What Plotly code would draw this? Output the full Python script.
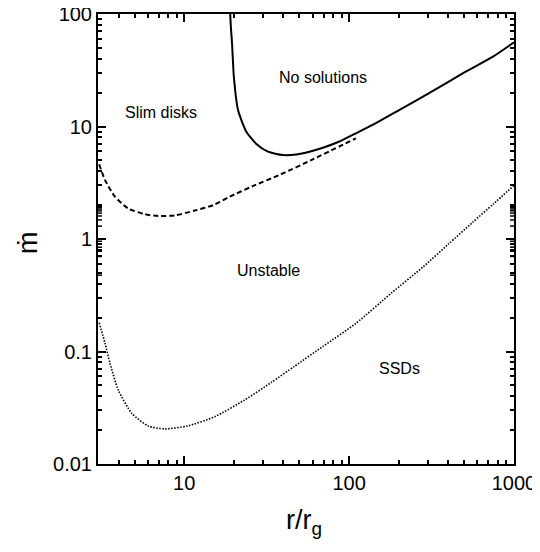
import math
import plotly.graph_objects as go

# Solid curve: "No solutions" boundary
solid_r = [19.0, 19.2, 19.5, 20.0, 21.2, 23.8, 27.4, 32.2, 39.6, 48.0, 57.5, 70.0, 87.3, 110, 150, 201, 300, 509, 750, 1000]
solid_m = [100, 75, 55, 27.7, 14.0, 9.0, 7.0, 5.97, 5.58, 5.65, 5.97, 6.5, 7.35, 8.7, 11.0, 14.0, 19.5, 30.7, 42.0, 56.0]

# Dashed curve
dash_r = [3.05, 3.31, 3.80, 4.57, 5.77, 6.95, 8.77, 11.6, 15.0, 18.9, 26.0, 37.8, 60.2, 110]
dash_m = [4.6, 3.34, 2.38, 1.87, 1.66, 1.60, 1.62, 1.79, 2.0, 2.38, 2.95, 3.71, 5.1, 7.85]

# Dotted curve
dot_r = [3.05, 3.31, 3.55, 3.98, 4.80, 6.04, 7.62, 10.5, 15.3, 23.2, 33.7, 46.7, 70.0, 110, 180, 279, 400, 559, 750, 1000]
dot_m = [0.18, 0.118, 0.0785, 0.0455, 0.0283, 0.0218, 0.0205, 0.0218, 0.0263, 0.037, 0.053, 0.074, 0.112, 0.178, 0.33, 0.56, 0.90, 1.40, 2.05, 3.0]

x_ticks = [10, 100, 1000]
x_ticktext = ["10", "100", "1000"]
x_minor = [4, 5, 6, 7, 8, 9, 20, 30, 40, 50, 60, 70, 80, 90, 200, 300, 400, 500, 600, 700, 800, 900]
y_ticks = [0.01, 0.1, 1, 10, 100]
y_ticktext = ["0.01", "0.1", "1", "10", "100"]
y_minor = [m * p for p in [0.01, 0.1, 1, 10] for m in range(2, 10)]

labels = ["No solutions", "Slim disks", "Unstable", "SSDs"]
label_r = [69.8, 7.26, 32.4, 201]
label_m = [27.0, 13.3, 0.53, 0.07]

FONT = "Liberation Sans, Arial, sans-serif"
X_RANGE = [math.log10(3), 3]
Y_RANGE = [-2, 2]

fig = go.Figure()
fig.add_trace(go.Scatter(x=solid_r, y=solid_m, mode="lines",
                         line=dict(color="black", width=2, shape="spline", smoothing=0.6)))
fig.add_trace(go.Scatter(x=dash_r, y=dash_m, mode="lines",
                         line=dict(color="black", width=2, dash="5px,3px", shape="spline", smoothing=0.6)))
fig.add_trace(go.Scatter(x=dot_r, y=dot_m, mode="lines",
                         line=dict(color="black", width=1.6, dash="1.5px,1.5px", shape="spline", smoothing=0.6)))

for t, xr, ym in zip(labels, label_r, label_m):
    fig.add_annotation(x=math.log10(xr), y=math.log10(ym), text=t, showarrow=False,
                       font=dict(family=FONT, size=16, color="black"))

fig.add_annotation(xref="paper", yref="paper", x=0.496, y=-0.128, text="r/r<sub>g</sub>", showarrow=False,
                   xanchor="center", yanchor="middle", font=dict(family=FONT, size=27, color="black"))
fig.add_annotation(xref="paper", yref="paper", x=-0.17, y=0.492, text="ṁ", showarrow=False, textangle=-90,
                   xanchor="center", yanchor="middle", font=dict(family=FONT, size=27, color="black"))


def inside(vals, rng):
    return [v for v in vals if rng[0] + 1e-6 < math.log10(v) < rng[1] - 1e-6]


# Tick marks on all four sides, placed through the axes' own log scale
tick_shapes = []
for vals, length, width in [(inside(x_ticks, X_RANGE), 8, 2), (inside(x_minor, X_RANGE), 4, 1.5)]:
    for v in vals:
        lv = math.log10(v)
        for anchor, sgn in [(0, 1), (1, -1)]:
            tick_shapes.append(dict(type="line", xref="x", yref="paper", ysizemode="pixel", yanchor=anchor,
                                    x0=lv, x1=lv, y0=0, y1=sgn * length,
                                    line=dict(color="black", width=width), layer="above"))
for vals, length, width in [(inside(y_ticks, Y_RANGE), 8, 2), (inside(y_minor, Y_RANGE), 4, 1.5)]:
    for v in vals:
        lv = math.log10(v)
        for anchor, sgn in [(0, 1), (1, -1)]:
            tick_shapes.append(dict(type="line", yref="y", xref="paper", xsizemode="pixel", xanchor=anchor,
                                    y0=lv, y1=lv, x0=0, x1=sgn * length,
                                    line=dict(color="black", width=width), layer="above"))


def axis(rng, vals, text, minor_vals):
    return dict(
        type="log", range=rng, tickvals=vals, ticktext=text,
        showline=True, linecolor="black", linewidth=2, mirror="allticks",
        ticks="inside", ticklen=8, tickwidth=2, tickcolor="#000000",
        gridcolor="rgba(0,0,0,0)", ticklabeloverflow="allow",
        minor=dict(tickmode="array", tickvals=minor_vals, ticks="inside", ticklen=4,
                   tickwidth=1.5, tickcolor="#000000", gridcolor="rgba(0,0,0,0)"),
    )


# the page body adds an 8px margin, so the figure is sized and offset for it
fig.update_layout(
    template="none",
    font=dict(family=FONT, size=20, color="black"),
    width=532, height=544, showlegend=False,
    margin=dict(l=90, r=26, t=6, b=88),
    xaxis=axis(X_RANGE, x_ticks, x_ticktext, x_minor),
    yaxis=axis(Y_RANGE, y_ticks, y_ticktext, y_minor),
    shapes=tick_shapes,
)
fig.write_html("out.html")
